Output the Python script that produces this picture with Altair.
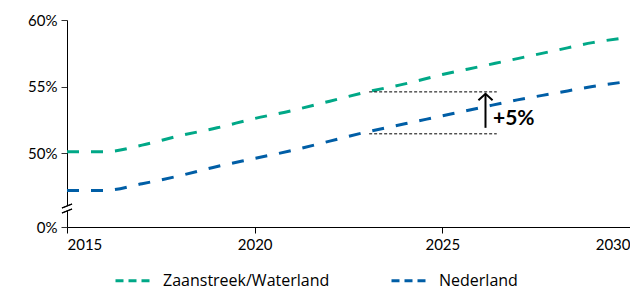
import altair as alt
import pandas as pd

years = list(range(2015, 2031))
zaanstreek = [50.1, 50.1, 50.6, 51.3, 51.9, 52.6, 53.2, 53.9, 54.6, 55.2, 55.9, 56.5, 57.1, 57.7, 58.3, 58.7]
nederland = [47.2, 47.2, 47.7, 48.3, 49.0, 49.6, 50.2, 50.9, 51.6, 52.2, 52.8, 53.4, 54.0, 54.5, 55.0, 55.4]
series = ["Zaanstreek/Waterland", "Nederland"]
colors = ["#00a887", "#005ea6"]
y_ticks = [44.45, 50, 55, 60]
x_ticks = [2015, 2020, 2025, 2030]

# annotation values
ann_x = [2023.05, 2026.45]
ann_levels = [54.6, 51.45]
arrow_x = 2026.15
arrow_y = [51.9, 54.45]
ann_text = "+5%"
ann_text_pos = (2026.35, 52.6)

FONT = "Lato"
LEGEND_FONT = "Open Sans"

rows = []
for name, vals in zip(series, [zaanstreek, nederland]):
    for yr, v in zip(years, vals):
        rows.append({"jaar": yr, "waarde": v, "reeks": name})
df = pd.DataFrame(rows)

x_scale = alt.Scale(domain=[2015, 2030], nice=False, zero=False)
y_scale = alt.Scale(domain=[44.45, 60], nice=False, zero=False)

lines = alt.Chart(df).mark_line(
    strokeWidth=3, strokeDash=[12, 12], interpolate="monotone"
).encode(
    x=alt.X("jaar:Q", scale=x_scale, title=None,
            axis=alt.Axis(values=x_ticks, format="d", labelFlush=True,
                          domainColor="black", tickColor="black", tickSize=6,
                          labelFontSize=15, labelColor="black", labelFont=FONT,
                          labelPadding=4, grid=False)),
    y=alt.Y("waarde:Q", scale=y_scale, title=None,
            axis=alt.Axis(values=y_ticks,
                          labelExpr="datum.value < 45 ? '0%' : format(datum.value, 'd') + '%'",
                          domainColor="black", tickColor="#333", tickSize=6,
                          labelFontSize=15, labelColor="black", labelFont=FONT,
                          labelPadding=4, grid=False)),
    color=alt.Color("reeks:N", scale=alt.Scale(domain=series, range=colors),
                    legend=alt.Legend(title=None, orient="none", legendX=47, legendY=240,
                                      direction="horizontal", columnPadding=55,
                                      symbolType="stroke", symbolSize=1444,
                                      symbolStrokeWidth=3, symbolDash=[8, 5],
                                      labelFontSize=16, labelColor="black",
                                      labelFont=LEGEND_FONT, labelOffset=8,
                                      labelLimit=400)),
)

ann_df = pd.DataFrame({"x1": [ann_x[0]] * 2, "x2": [ann_x[1]] * 2, "y": ann_levels})
dotted = alt.Chart(ann_df).mark_rule(strokeDash=[3, 2], strokeWidth=1, color="black").encode(
    x=alt.X("x1:Q", scale=x_scale), x2="x2:Q", y=alt.Y("y:Q", scale=y_scale)
)

arrow_df = pd.DataFrame({"x": [arrow_x], "y1": [arrow_y[0]], "y2": [arrow_y[1]]})
arrow_line = alt.Chart(arrow_df).mark_rule(strokeWidth=2, color="black").encode(
    x=alt.X("x:Q", scale=x_scale), y=alt.Y("y1:Q", scale=y_scale), y2="y2:Q"
)
arrow_head = alt.Chart(arrow_df).mark_point(
    shape="M-1,0.9L0,0L1,0.9", filled=False, stroke="black", strokeWidth=2, size=200, opacity=1
).encode(x=alt.X("x:Q", scale=x_scale), y=alt.Y("y2:Q", scale=y_scale))

text_df = pd.DataFrame({"x": [ann_text_pos[0]], "y": [ann_text_pos[1]], "t": [ann_text]})
label = alt.Chart(text_df).mark_text(
    align="left", baseline="middle", fontSize=21, fontWeight="bold", font=FONT, color="black"
).encode(x=alt.X("x:Q", scale=x_scale), y=alt.Y("y:Q", scale=y_scale), text="t:N")

brk_df = pd.DataFrame({"k": [0, 1]})
brk_white = alt.Chart(brk_df).mark_rule(color="white", strokeWidth=4).encode(
    x=alt.value(0), y=alt.value(186), y2=alt.value(191)
)
brk1 = alt.Chart(brk_df).mark_rule(color="black", strokeWidth=1.2).encode(
    x=alt.value(-5), x2=alt.value(5), y=alt.value(188), y2=alt.value(184)
)
brk2 = alt.Chart(brk_df).mark_rule(color="black", strokeWidth=1.2).encode(
    x=alt.value(-5), x2=alt.value(5), y=alt.value(193), y2=alt.value(189)
)

chart = alt.layer(lines, dotted, arrow_line, arrow_head, label, brk_white, brk1, brk2).properties(
    width=563, height=207,
    autosize=alt.AutoSizeParams(type="none"),
    padding={"left": 59, "top": 12, "right": 0, "bottom": 62},
).configure_view(stroke=None)

chart.save("out.html", embed_options={"renderer": "svg", "actions": False})
